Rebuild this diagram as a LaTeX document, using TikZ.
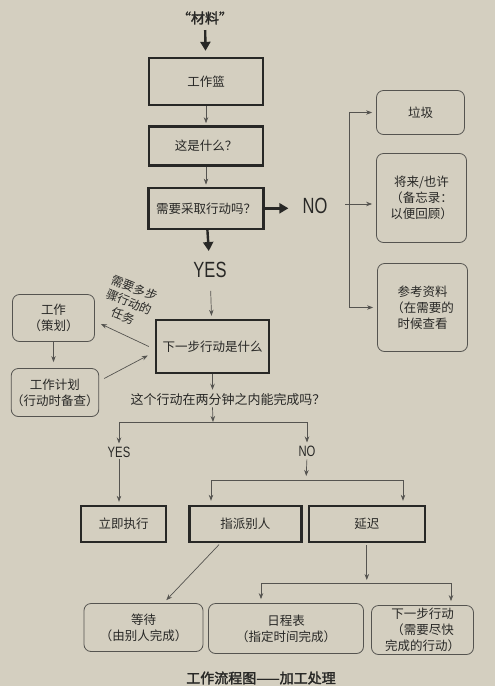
\documentclass[tikz,border=0pt]{standalone}
\usepackage{fontspec}
\newfontfamily\cjk{Noto Sans CJK SC}
\newfontfamily\cjkbf[FakeBold=2]{Noto Sans CJK SC}
\newfontfamily\narrowsans[FakeStretch=0.75]{Liberation Sans}
\usepackage{xcolor}
\usepackage{tikz}
\usetikzlibrary{arrows.meta,positioning}
\definecolor{paper}{RGB}{212,207,192}
\definecolor{ink}{RGB}{40,40,38}
\definecolor{pencil}{RGB}{85,84,80}

\begin{document}
\begin{tikzpicture}[x=1pt, y=-1pt, >=Stealth,
  heavy/.style={draw=ink, line width=2.4pt, text=ink, inner sep=0pt, font=\cjk\fontsize{12.5}{16}\selectfont},
  soft/.style={draw=pencil, line width=0.8pt, rounded corners=7pt, text=ink, inner sep=0pt, align=center, font=\cjk\fontsize{12.5}{16}\selectfont},
  answer/.style={text=ink, inner sep=1pt, font=\narrowsans\fontsize{22}{22}\selectfont},
  smallanswer/.style={text=ink, inner sep=1pt, font=\narrowsans\fontsize{15}{15}\selectfont},
  plain/.style={draw=pencil, line width=0.7pt},
  thin/.style={draw=pencil, line width=0.7pt, -{Stealth[length=6pt,width=4.5pt]}},
  fat/.style={draw=ink, line width=2.4pt, -{Triangle[length=9pt,width=10pt]}}]
  \fill[paper] (0,0) rectangle (495,686);
  \useasboundingbox (0,0) rectangle (495,686);

  % main column
  \node[text=ink, font=\cjkbf\fontsize{14}{14}\selectfont] (material) at (205,18) {“材料”};
  \node[heavy, minimum width=114pt, minimum height=47pt] (inbox) at (206,81.5) {工作篮};
  \node[heavy, minimum width=114pt, minimum height=39pt] (what) [below=19pt of inbox] {这是什么？};
  \node[heavy, minimum width=115pt, minimum height=41pt] (action) [below=20pt of what] {需要采取行动吗？};
  \node[answer] (no1) at (315,206) {NO};
  \node[answer] (yes1) at (210,270) {YES};
  \node[heavy, minimum width=113pt, minimum height=53pt] (next) at (212.5,346.5) {下一步行动是什么};

  % not actionable
  \node[soft, minimum width=88pt, minimum height=44pt] (trash) at (420.5,112.5) {垃圾};
  \node[soft, minimum width=90pt, minimum height=89pt] (someday) at (421.5,198) {将来/也许\\（备忘录：\\以便回顾）};
  \node[soft, minimum width=90pt, minimum height=88pt] (reference) at (422.5,307.5) {参考资料\\（在需要的\\时候查看};

  % projects
  \node[soft, minimum width=82pt, minimum height=47pt] (project) at (53.5,318) {工作\\（策划）};
  \node[soft, minimum width=81pt, minimum height=48pt] (plans) at (55,392.5) {工作计划\\（行动时备查）};
  \node[text=ink, rotate=-22, align=center, inner sep=0pt, font=\cjk\fontsize{12}{15}\selectfont] (multi) at (129,302) {需要多步\\骤行动的\\任务};

  % two minutes
  \node[text=ink, inner sep=1pt, font=\cjk\fontsize{13}{15}\selectfont] (question) at (228,400) {这个行动在两分钟之内能完成吗？};
  \node[smallanswer] (yes2) at (119,452) {YES};
  \node[smallanswer] (no2) at (307,451) {NO};
  \node[heavy, minimum width=85pt, minimum height=36pt] (doit) at (123.5,524) {立即执行};
  \node[heavy, minimum width=112pt, minimum height=36pt] (delegate) [right=21pt of doit] {指派别人};
  \node[heavy, minimum width=116pt, minimum height=36pt] (defer) [right=5pt of delegate] {延迟};
  \node[soft, minimum width=119pt, minimum height=48pt] (wait) at (143.5,627.5) {等待\\（由别人完成）};
  \node[soft, minimum width=155pt, minimum height=50pt] (calendar) at (286,628.5) {日程表\\（指定时间完成）};
  \node[soft, minimum width=102pt, minimum height=49pt] (nextlist) at (422.5,630) {下一步行动\\（需要尽快\\完成的行动）};
  \node[text=ink, font=\cjkbf\fontsize{14}{14}\selectfont] (caption) at (261,678) {工作流程图——加工处理};

  \coordinate (split) at (349,204);
  \coordinate (fork) at (213,422);
  \coordinate (fork2) at (306,480);
  \coordinate (dl) at (211,480);
  \coordinate (dr) at (403,480);
  \coordinate (fork3) at (369,583);
  \coordinate (cl) at (261,583);
  \coordinate (cr) at (451,583);

  \draw[fat, shorten <=2pt, shorten >=6pt] (material) -- (inbox);
  \draw[thin, shorten >=2pt] (inbox) -- (what);
  \draw[thin, shorten >=2pt] (what) -- (action);
  \draw[fat, shorten >=13pt] (action.east) -- (action.east -| no1.west);
  \draw[fat, shorten >=10pt] (action) -- (yes1);
  \draw[thin, shorten <=12pt, shorten >=3pt] (yes1) -- (next);

  \draw[plain] (split |- trash) -- (split |- reference);
  \draw[thin, shorten >=4pt] ([xshift=-4pt]split) -- (split -| someday.west);
  \draw[thin, shorten >=4pt] (split |- trash) -- (trash);
  \draw[thin, shorten >=4pt] (split |- reference) -- (reference);

  \draw[thin, shorten >=6pt] (project.south) -- (project.south |- plans.north);
  \draw[thin] ([xshift=-6pt]next.west) -- ([shift={(6pt,-6pt)}]project.east);
  \draw[thin] ([shift={(5pt,14pt)}]plans.east) -- ([shift={(-7pt,-9pt)}]next.west);

  \draw[thin, shorten >=3pt] (next.south) -- (next.south |- question.north);
  \draw[thin] (next.south |- question.south) -- (fork);
  \draw[plain] (fork -| yes2) -- (fork -| no2);
  \draw[thin, shorten >=2pt] (fork -| yes2) -- (yes2);
  \draw[thin, shorten >=2pt] (fork -| no2) -- (no2);
  \draw[thin, shorten >=3pt] (yes2.south) -- (yes2.south |- doit.north);
  \draw[thin, shorten <=2pt, shorten >=4pt] (no2.south) -- (fork2);
  \draw[plain] (dl) -- (dr);
  \draw[thin, shorten >=4pt] (dl) -- (dl |- delegate.north);
  \draw[thin, shorten >=4pt] (dr) -- (dr |- defer.north);

  \draw[thin, shorten <=2pt, shorten >=4pt] ([xshift=-25pt]delegate.south) -- ([xshift=20pt]wait.north);
  \draw[thin, shorten <=2pt, shorten >=3pt] (defer.south) -- (defer.south |- fork3);
  \draw[plain] (cl) -- (cr);
  \draw[thin, shorten >=4pt] (cl) -- (cl |- calendar.north);
  \draw[thin, shorten >=4pt] (cr) -- (cr |- nextlist.north);
\end{tikzpicture}
\end{document}
